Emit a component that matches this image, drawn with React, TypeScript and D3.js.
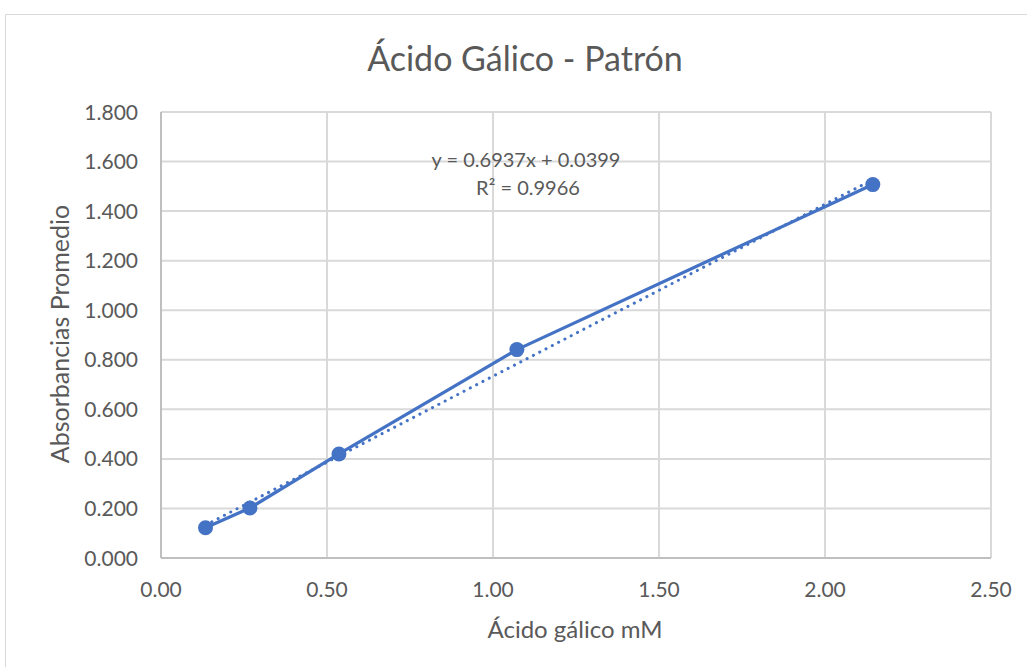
import { useEffect, useRef } from "react";
import * as d3 from "d3";

const concentrations = [0.134, 0.268, 0.536, 1.072, 2.144];
const absorbances = [0.122, 0.202, 0.42, 0.841, 1.507];
const xTicks = [0, 0.5, 1, 1.5, 2, 2.5];
const yTicks = [0, 0.2, 0.4, 0.6, 0.8, 1.0, 1.2, 1.4, 1.6, 1.8];
const slope = 0.6937;
const intercept = 0.0399;
const equationLabel = "y = 0.6937x + 0.0399";
const r2Label = "R² = 0.9966";

const App = () => {
    const container = useRef<HTMLDivElement>(null);

    useEffect(() => {
        const el = container.current;
        if (!el) return;
        el.innerHTML = "";

        const W = 1027, H = 667;
        const font = "Lato, 'Open Sans', sans-serif";
        const textColor = "#595959";
        const blue = "#4472C4";
        const margin = { top: 112, right: 36, bottom: 109, left: 161 };
        const width = W - margin.left - margin.right;
        const height = H - margin.top - margin.bottom;

        const svg = d3.select(el)
            .append("svg")
            .attr("width", W)
            .attr("height", H)
            .style("display", "block");

        svg.append("rect").attr("width", W).attr("height", H).attr("fill", "#fff");
        // chart border (runs off right / bottom)
        svg.append("path")
            .attr("d", `M5.5,${H + 2} L5.5,14.5 L${W + 2},14.5`)
            .attr("fill", "none")
            .attr("stroke", "#d9d9d9")
            .attr("stroke-width", 1);

        const g = svg.append("g").attr("transform", `translate(${margin.left},${margin.top})`);

        const x = d3.scaleLinear().domain([0, 2.5]).range([0, width]);
        const y = d3.scaleLinear().domain([0, 1.8]).range([height, 0]);

        // grid
        g.selectAll("line.vgrid")
            .data(xTicks)
            .join("line")
            .attr("x1", d => x(d)).attr("x2", d => x(d))
            .attr("y1", 0).attr("y2", height)
            .attr("stroke", "#d9d9d9").attr("stroke-width", 2);
        g.selectAll("line.hgrid")
            .data(yTicks)
            .join("line")
            .attr("x1", 0).attr("x2", width)
            .attr("y1", d => y(d)).attr("y2", d => y(d))
            .attr("stroke", "#d9d9d9").attr("stroke-width", 2);

        g.append("line").attr("x1", 0).attr("x2", width).attr("y1", height).attr("y2", height)
            .attr("stroke", "#bfbfbf").attr("stroke-width", 2);
        g.append("line").attr("x1", 0).attr("x2", 0).attr("y1", 0).attr("y2", height)
            .attr("stroke", "#bfbfbf").attr("stroke-width", 2);

        // tick labels
        g.selectAll("text.xt")
            .data(xTicks)
            .join("text")
            .attr("x", d => x(d))
            .attr("y", height + 39)
            .attr("text-anchor", "middle")
            .style("font-family", font).style("font-size", "21px").style("fill", textColor)
            .text(d => d3.format(".2f")(d));
        g.selectAll("text.yt")
            .data(yTicks)
            .join("text")
            .attr("x", -23)
            .attr("y", d => y(d))
            .attr("dy", "0.36em")
            .attr("text-anchor", "end")
            .style("font-family", font).style("font-size", "21px").style("fill", textColor)
            .text(d => d3.format(".3f")(d));

        // linear trendline (dotted)
        const xMin = d3.min(concentrations) as number;
        const xMax = d3.max(concentrations) as number;
        g.append("line")
            .attr("x1", x(xMin)).attr("y1", y(slope * xMin + intercept))
            .attr("x2", x(xMax)).attr("y2", y(slope * xMax + intercept))
            .attr("stroke", blue).attr("stroke-width", 3)
            .attr("stroke-dasharray", "0.1 7")
            .attr("stroke-linecap", "round");

        const pts = concentrations.map((c, i) => [c, absorbances[i]] as [number, number]);
        const line = d3.line<[number, number]>().x(d => x(d[0])).y(d => y(d[1]));
        g.append("path")
            .datum(pts)
            .attr("d", line)
            .attr("fill", "none")
            .attr("stroke", blue)
            .attr("stroke-width", 3.25)
            .attr("stroke-linejoin", "round");

        g.selectAll("circle.pt")
            .data(pts)
            .join("circle")
            .attr("cx", d => x(d[0]))
            .attr("cy", d => y(d[1]))
            .attr("r", 7.5)
            .attr("fill", blue);

        // equation
        svg.append("text").attr("x", 526).attr("y", 167)
            .attr("text-anchor", "middle")
            .style("font-family", font).style("font-size", "20px").style("fill", textColor)
            .text(equationLabel);
        svg.append("text").attr("x", 528).attr("y", 195)
            .attr("text-anchor", "middle")
            .style("font-family", font).style("font-size", "20px").style("fill", textColor)
            .text(r2Label);

        // title
        svg.append("text").attr("x", 525).attr("y", 71)
            .attr("text-anchor", "middle")
            .style("font-family", font).style("font-size", "34px").style("fill", textColor)
            .text("Ácido Gálico - Patrón");

        // axis titles
        svg.append("text").attr("x", 575).attr("y", 638)
            .attr("text-anchor", "middle")
            .style("font-family", font).style("font-size", "24px").style("fill", textColor)
            .text("Ácido gálico mM");
        svg.append("text")
            .attr("transform", `translate(69,334) rotate(-90)`)
            .attr("text-anchor", "middle")
            .style("font-family", font).style("font-size", "25px").style("fill", textColor)
            .text("Absorbancias Promedio");
    }, []);

    return <div ref={container} style={{ position: "absolute", left: 0, top: 0 }}></div>;
};

export default App;
